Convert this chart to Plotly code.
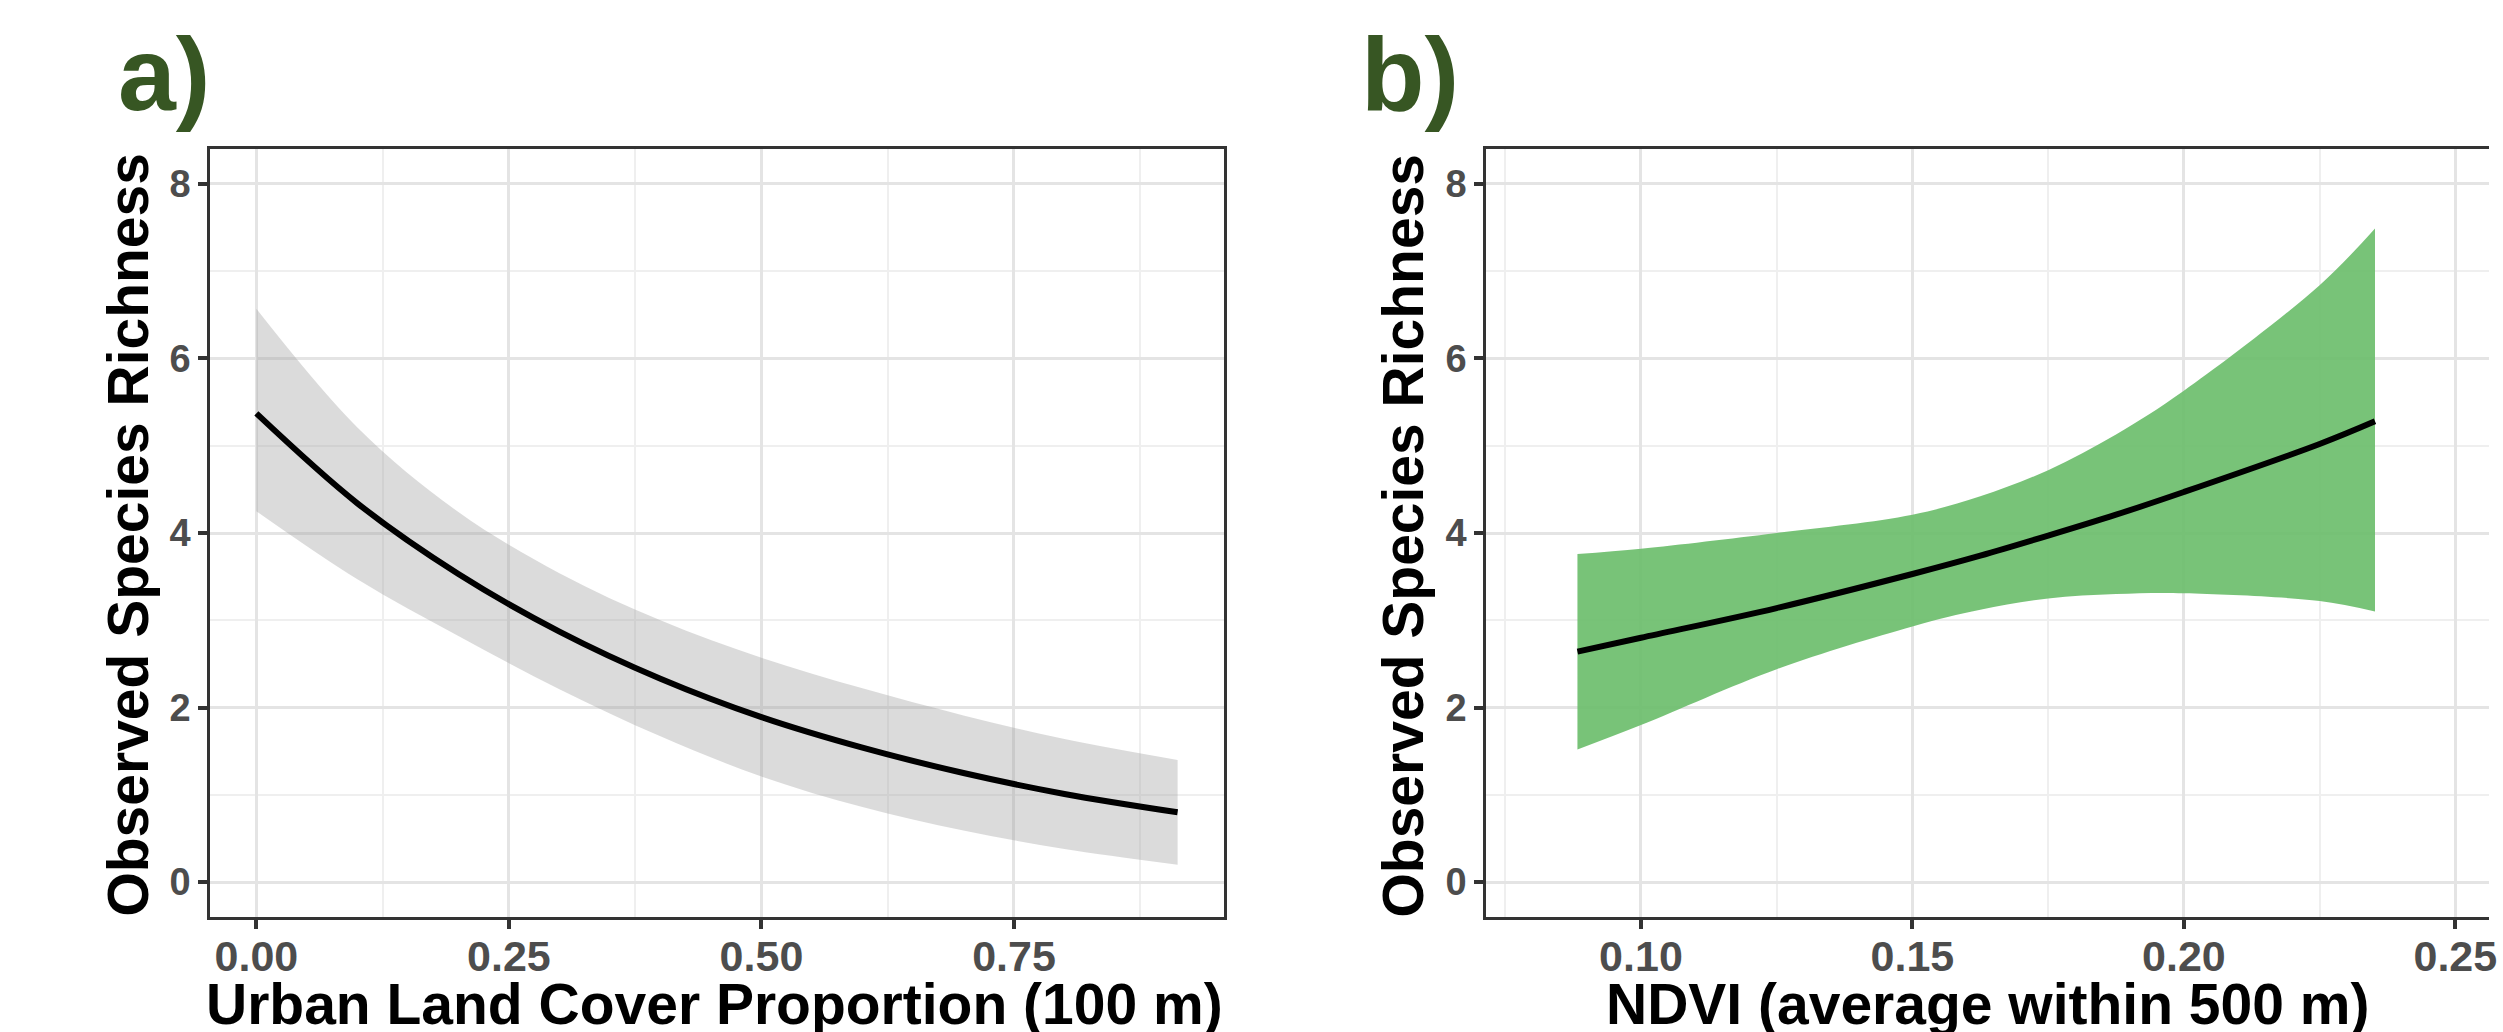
import plotly.graph_objects as go

# ---- Panel a: Urban land cover proportion (100 m) ----
urban_x = [0.0, 0.1, 0.2, 0.3, 0.4, 0.5, 0.6, 0.7, 0.8, 0.912]
urban_fit = [5.37, 4.34, 3.53, 2.87, 2.33, 1.89, 1.54, 1.25, 1.01, 0.80]
urban_upper = [6.57, 5.21, 4.24, 3.54, 3.00, 2.57, 2.22, 1.91, 1.64, 1.40]
urban_lower = [4.25, 3.47, 2.82, 2.21, 1.67, 1.21, 0.86, 0.59, 0.38, 0.20]

# ---- Panel b: NDVI (average within 500 m) ----
ndvi_x = [0.0883, 0.100, 0.125, 0.150, 0.1625, 0.175, 0.1875, 0.200, 0.225, 0.2352]
ndvi_fit = [2.64, 2.80, 3.14, 3.53, 3.74, 3.97, 4.21, 4.47, 5.02, 5.28]
ndvi_upper = [3.76, 3.82, 4.00, 4.21, 4.42, 4.72, 5.13, 5.63, 6.84, 7.49]
ndvi_lower = [1.52, 1.80, 2.44, 2.93, 3.12, 3.25, 3.30, 3.31, 3.22, 3.10]

y_ticks = [0, 2, 4, 6, 8]
y_ticktext = ["0", "2", "4", "6", "8"]
xa_ticks = [0.0, 0.25, 0.50, 0.75]
xa_ticktext = ["0.00", "0.25", "0.50", "0.75"]
xb_ticks = [0.10, 0.15, 0.20, 0.25]
xb_ticktext = ["0.10", "0.15", "0.20", "0.25"]

y_title = "Observed Species Richness"
xa_title = "Urban Land Cover Proportion (100 m)"
xb_title = "NDVI (average within 500 m)"

W, H = 2503, 1032
FONT = "Liberation Sans, Arial, Helvetica, sans-serif"
GREEN_LABEL = "#375623"

fig = go.Figure()

# Panel a ribbon + line
fig.add_trace(go.Scatter(x=urban_x, y=urban_lower, mode="lines",
                         line=dict(width=0, shape="spline", color="rgba(0,0,0,0)"),
                         xaxis="x", yaxis="y", showlegend=False, hoverinfo="skip"))
fig.add_trace(go.Scatter(x=urban_x, y=urban_upper, mode="lines", fill="tonexty",
                         fillcolor="rgba(160,160,160,0.38)",
                         line=dict(width=0, shape="spline", color="rgba(0,0,0,0)"),
                         xaxis="x", yaxis="y", showlegend=False, hoverinfo="skip"))
fig.add_trace(go.Scatter(x=urban_x, y=urban_fit, mode="lines",
                         line=dict(width=6, shape="spline", color="black"),
                         xaxis="x", yaxis="y", showlegend=False))

# Panel b ribbon + line
fig.add_trace(go.Scatter(x=ndvi_x, y=ndvi_lower, mode="lines",
                         line=dict(width=0, shape="spline", color="rgba(0,0,0,0)"),
                         xaxis="x2", yaxis="y2", showlegend=False, hoverinfo="skip"))
fig.add_trace(go.Scatter(x=ndvi_x, y=ndvi_upper, mode="lines", fill="tonexty",
                         fillcolor="rgba(108,190,108,0.92)",
                         line=dict(width=0, shape="spline", color="rgba(0,0,0,0)"),
                         xaxis="x2", yaxis="y2", showlegend=False, hoverinfo="skip"))
fig.add_trace(go.Scatter(x=ndvi_x, y=ndvi_fit, mode="lines",
                         line=dict(width=6, shape="spline", color="black"),
                         xaxis="x2", yaxis="y2", showlegend=False))

def px_x(p):
    return p / W

def px_y(p):
    return 1 - p / H

tick_font = dict(family=FONT, size=43, color="#4d4d4d", weight="bold")
ytick_font = dict(family=FONT, size=38, color="#4d4d4d", weight="bold")
common_axis = dict(showline=True, linecolor="#333333", linewidth=3,
                   ticks="outside", ticklen=9, tickwidth=3.5, tickcolor="#333333",
                   showgrid=True, gridcolor="#e4e4e4", gridwidth=3,
                   zeroline=False, fixedrange=True, ticklabeloverflow="allow")

ydom = [px_y(917), px_y(149)]

fig.update_layout(
    width=W, height=H,
    margin=dict(l=0, r=0, t=0, b=0),
    paper_bgcolor="white", plot_bgcolor="white",
    xaxis=dict(domain=[px_x(211), px_x(1228)], range=[-0.0456, 0.958], anchor="y",
               tickvals=xa_ticks, ticktext=xa_ticktext, tickfont=tick_font, mirror=True,
               ticklabelstandoff=-10,
               minor=dict(showgrid=True, gridcolor="#efefef", gridwidth=1.5, dtick=0.125, tick0=0.125),
               **common_axis),
    yaxis=dict(domain=ydom, range=[-0.4, 8.4], anchor="x",
               tickvals=y_ticks, ticktext=y_ticktext, tickfont=ytick_font, mirror=True,
               minor=dict(showgrid=True, gridcolor="#efefef", gridwidth=1.5, dtick=2, tick0=1),
               **common_axis),
    xaxis2=dict(domain=[px_x(1491), px_x(2497)], range=[0.0715, 0.2562], anchor="y2",
                tickvals=xb_ticks, ticktext=xb_ticktext, tickfont=tick_font, mirror=True,
                ticklabelstandoff=-10,
                minor=dict(showgrid=True, gridcolor="#efefef", gridwidth=1.5, dtick=0.05, tick0=0.075),
                **common_axis),
    yaxis2=dict(domain=ydom, range=[-0.4, 8.4], anchor="x2",
                tickvals=y_ticks, ticktext=y_ticktext, tickfont=ytick_font, mirror=False,
                minor=dict(showgrid=True, gridcolor="#efefef", gridwidth=1.5, dtick=2, tick0=1),
                **common_axis),
)

title_font = dict(family=FONT, size=57, color="black", weight="bold")
ann = []
# x-axis titles
ann.append(dict(text=xa_title, x=px_x(717), y=px_y(970), xref="paper", yref="paper",
                xanchor="center", yanchor="top", showarrow=False, font=title_font))
ann.append(dict(text=xb_title, x=px_x(1994), y=px_y(970), xref="paper", yref="paper",
                xanchor="center", yanchor="top", showarrow=False, font=title_font))
# y-axis titles
ann.append(dict(text=y_title, x=px_x(128), y=px_y(535), xref="paper", yref="paper",
                xanchor="center", yanchor="middle", textangle=-90, showarrow=False, font=title_font))
ann.append(dict(text=y_title, x=px_x(1408), y=px_y(535), xref="paper", yref="paper",
                xanchor="center", yanchor="middle", textangle=-90, showarrow=False, font=title_font))
# panel labels
lab_font = dict(family=FONT, size=104, color=GREEN_LABEL, weight="bold")
ann.append(dict(text="a)", x=px_x(116), y=px_y(134), xref="paper", yref="paper",
                xanchor="left", yanchor="bottom", showarrow=False, font=lab_font))
ann.append(dict(text="b)", x=px_x(1363), y=px_y(134), xref="paper", yref="paper",
                xanchor="left", yanchor="bottom", showarrow=False, font=lab_font))
fig.update_layout(annotations=ann)

fig.write_html("out.html", config={"displayModeBar": False},
               post_script="document.body.style.margin='0';document.body.style.overflow='hidden';")
